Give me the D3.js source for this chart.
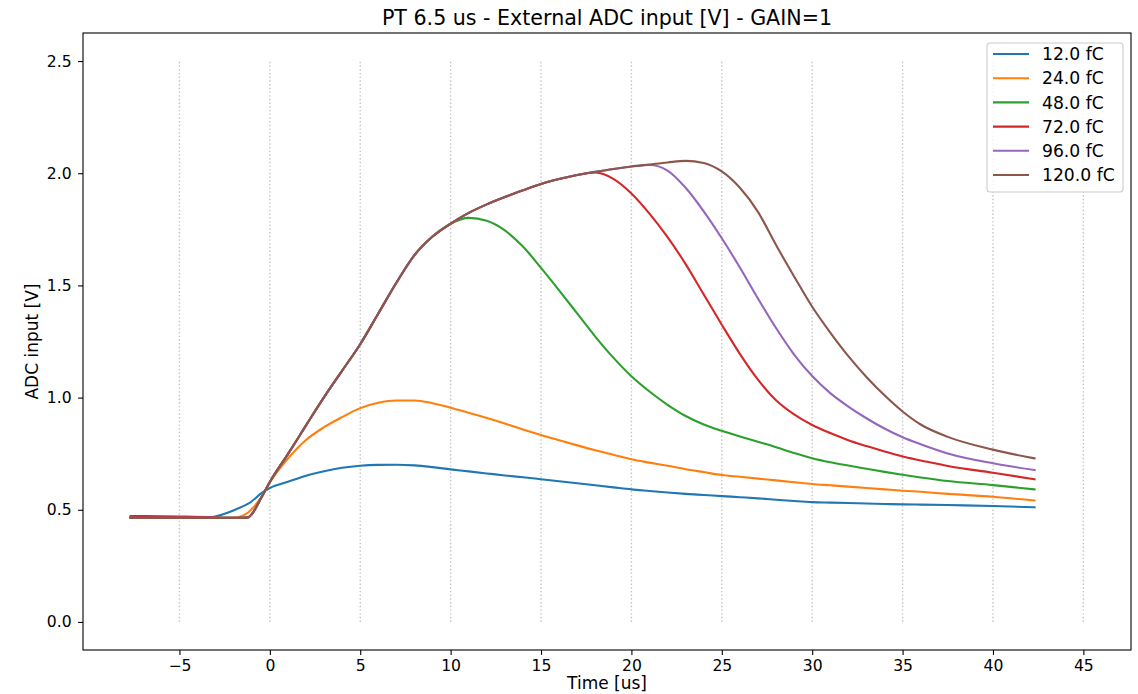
<!DOCTYPE html>
<html>
<head>
<meta charset="utf-8">
<script src="https://cdn.jsdelivr.net/npm/d3@7"></script>
<style>
  html, body { margin: 0; padding: 0; background: #fff; }
  svg { display: block; font-family: "DejaVu Sans", sans-serif; }
</style>
</head>
<body>
<svg id="chart" width="1138" height="694"></svg>
<script>
// ---------------- data ----------------
const titleText = "PT 6.5 us - External ADC input [V] - GAIN=1";
const xLabel = "Time [us]";
const yLabel = "ADC input [V]";

const seriesNames = ["12.0 fC", "24.0 fC", "48.0 fC", "72.0 fC", "96.0 fC", "120.0 fC"];
const seriesColors = ["#1f77b4", "#ff7f0e", "#2ca02c", "#d62728", "#9467bd", "#8c564b"];

const xTicks = [-5, 0, 5, 10, 15, 20, 25, 30, 35, 40, 45];
const yTicks = [0.0, 0.5, 1.0, 1.5, 2.0, 2.5];
const gridX = [-5, 0, 5, 10, 15, 20, 25, 30, 35, 40, 45];
const gridYRange = [0, 2.5];

const time = [-7.7, -5, -3.3, -2.5, -2, -1.5, -1.2, -1, -0.5, 0,
  1, 2, 3, 4, 5, 6, 7, 8, 9, 10,
  11, 12, 13, 14, 15, 16, 17, 18, 19, 20,
  21, 22, 23, 24, 25, 26, 27, 28, 29, 30,
  31, 32, 33, 34, 35, 36, 37.5, 40, 42.3];

const fc12 = [0.468, 0.466, 0.467, 0.482, 0.498, 0.515, 0.527, 0.538, 0.572, 0.597,
  0.625, 0.652, 0.672, 0.687, 0.696, 0.700, 0.701, 0.698, 0.690, 0.680,
  0.671, 0.662, 0.653, 0.645, 0.636, 0.627, 0.618, 0.609, 0.600, 0.591,
  0.584, 0.577, 0.571, 0.566, 0.561, 0.556, 0.551, 0.545, 0.539, 0.534,
  0.532, 0.530, 0.528, 0.526, 0.524, 0.523, 0.521, 0.517, 0.511];

const fc24 = [0.464, 0.464, 0.464, 0.464, 0.464, 0.474, 0.488, 0.503, 0.553, 0.622,
  0.728, 0.811, 0.868, 0.913, 0.953, 0.977, 0.987, 0.987, 0.975, 0.955,
  0.932, 0.909, 0.884, 0.858, 0.833, 0.810, 0.787, 0.765, 0.745, 0.725,
  0.710, 0.696, 0.681, 0.668, 0.655, 0.647, 0.639, 0.631, 0.623, 0.615,
  0.609, 0.603, 0.597, 0.591, 0.585, 0.580, 0.571, 0.558, 0.541];

const fc48 = [0.464, 0.464, 0.464, 0.464, 0.464, 0.464, 0.466, 0.480, 0.550, 0.624,
  0.748, 0.876, 1.002, 1.120, 1.238, 1.375, 1.512, 1.635, 1.718, 1.775,
  1.801, 1.788, 1.745, 1.673, 1.578, 1.478, 1.375, 1.272, 1.178, 1.095,
  1.027, 0.968, 0.918, 0.880, 0.852, 0.827, 0.803, 0.779, 0.753, 0.730,
  0.712, 0.697, 0.683, 0.669, 0.656, 0.644, 0.628, 0.610, 0.591];

const fc72 = [0.472, 0.470, 0.467, 0.464, 0.464, 0.464, 0.466, 0.480, 0.550, 0.624,
  0.748, 0.876, 1.002, 1.120, 1.238, 1.375, 1.512, 1.635, 1.718, 1.775,
  1.823, 1.861, 1.894, 1.924, 1.952, 1.974, 1.992, 2.004, 1.975, 1.910,
  1.820, 1.715, 1.595, 1.460, 1.325, 1.195, 1.080, 0.988, 0.925, 0.878,
  0.842, 0.810, 0.784, 0.760, 0.737, 0.720, 0.695, 0.665, 0.636];

const fc96 = [0.464, 0.464, 0.464, 0.464, 0.464, 0.464, 0.466, 0.480, 0.550, 0.624,
  0.748, 0.876, 1.002, 1.120, 1.238, 1.375, 1.512, 1.635, 1.718, 1.775,
  1.823, 1.861, 1.894, 1.924, 1.952, 1.974, 1.992, 2.006, 2.019, 2.030,
  2.037, 2.012, 1.935, 1.830, 1.710, 1.580, 1.442, 1.310, 1.192, 1.096,
  1.020, 0.960, 0.908, 0.862, 0.823, 0.792, 0.751, 0.707, 0.677];

const fc120 = [0.464, 0.464, 0.464, 0.464, 0.464, 0.464, 0.466, 0.480, 0.550, 0.624,
  0.748, 0.876, 1.002, 1.120, 1.238, 1.375, 1.512, 1.635, 1.718, 1.775,
  1.823, 1.861, 1.894, 1.924, 1.952, 1.974, 1.992, 2.006, 2.019, 2.030,
  2.039, 2.048, 2.055, 2.046, 2.008, 1.935, 1.828, 1.680, 1.540, 1.405,
  1.290, 1.185, 1.092, 1.010, 0.938, 0.880, 0.825, 0.768, 0.729];

const seriesValues = [fc12, fc24, fc48, fc72, fc96, fc120];

// ---------------- layout ----------------
const svg = d3.select("#chart");
const plot = { left: 83, right: 1131, top: 33, bottom: 650 };

const x = d3.scaleLinear().domain([-10.335, 47.635]).range([plot.left, plot.right]);
const y = d3.scaleLinear().domain([-0.125, 2.625]).range([plot.bottom, plot.top]);

// grid (dotted vertical lines from y=0 to y=2.5)
svg.append("g").selectAll("line").data(gridX).join("line")
  .attr("x1", d => x(d)).attr("x2", d => x(d))
  .attr("y1", y(gridYRange[0])).attr("y2", y(gridYRange[1]))
  .attr("stroke", "#c4c4c4").attr("stroke-width", 1.4)
  .attr("stroke-dasharray", "1.4,2.3");

// lines
const line = d3.line().x((d, i) => x(time[i])).y(d => y(d)).curve(d3.curveMonotoneX);
svg.append("g").selectAll("path").data(seriesValues).join("path")
  .attr("d", d => line(d))
  .attr("fill", "none")
  .attr("stroke", (d, i) => seriesColors[i])
  .attr("stroke-width", 2.1)
  .attr("stroke-linejoin", "round")
  .attr("stroke-linecap", "square");

// axes
const xAxis = d3.axisBottom(x).tickValues(xTicks).tickSizeOuter(0).tickSize(4.9).tickPadding(5)
  .tickFormat(d => d < 0 ? "\u2212" + Math.abs(d) : String(d));
const yAxis = d3.axisLeft(y).tickValues(yTicks).tickSizeOuter(0).tickSize(4.9).tickPadding(6.5)
  .tickFormat(d3.format(".1f"));

const gx = svg.append("g").attr("transform", `translate(0,${plot.bottom})`).call(xAxis);
const gy = svg.append("g").attr("transform", `translate(${plot.left},0)`).call(yAxis);
[gx, gy].forEach(g => {
  g.select(".domain").remove();
  g.selectAll(".tick line").attr("stroke", "#000").attr("stroke-width", 1.1);
  g.selectAll(".tick text").attr("fill", "#000").style("font-size", "15.6px")
    .style("font-family", "'DejaVu Sans', sans-serif");
});

// frame (spines)
svg.append("rect")
  .attr("x", plot.left).attr("y", plot.top)
  .attr("width", plot.right - plot.left).attr("height", plot.bottom - plot.top)
  .attr("fill", "none").attr("stroke", "#000").attr("stroke-width", 1.1);

// title & labels
svg.append("text").attr("x", (plot.left + plot.right) / 2).attr("y", 25)
  .attr("text-anchor", "middle").style("font-size", "20.6px").attr("fill", "#000")
  .text(titleText);
svg.append("text").attr("x", (plot.left + plot.right) / 2).attr("y", 689)
  .attr("text-anchor", "middle").style("font-size", "17px").attr("fill", "#000")
  .text(xLabel);
svg.append("text")
  .attr("transform", `translate(37.5,${(plot.top + plot.bottom) / 2}) rotate(-90)`)
  .attr("text-anchor", "middle").style("font-size", "17px").attr("fill", "#000")
  .text(yLabel);

// legend
const legend = svg.append("g");
legend.append("rect")
  .attr("x", 987).attr("y", 43).attr("width", 136).attr("height", 149)
  .attr("rx", 3).attr("ry", 3)
  .attr("fill", "#fff").attr("fill-opacity", 0.8)
  .attr("stroke", "#cccccc").attr("stroke-width", 1.1);
const rowY = i => 54 + i * 24.2;
const items = legend.selectAll("g.item").data(seriesNames).join("g").attr("class", "item");
items.append("line")
  .attr("x1", 993).attr("x2", 1029)
  .attr("y1", (d, i) => rowY(i)).attr("y2", (d, i) => rowY(i))
  .attr("stroke", (d, i) => seriesColors[i]).attr("stroke-width", 2.1);
items.append("text")
  .attr("x", 1042).attr("y", (d, i) => rowY(i)).attr("dy", "0.36em")
  .style("font-size", "17.2px").attr("fill", "#000")
  .text(d => d);
</script>
</body>
</html>
